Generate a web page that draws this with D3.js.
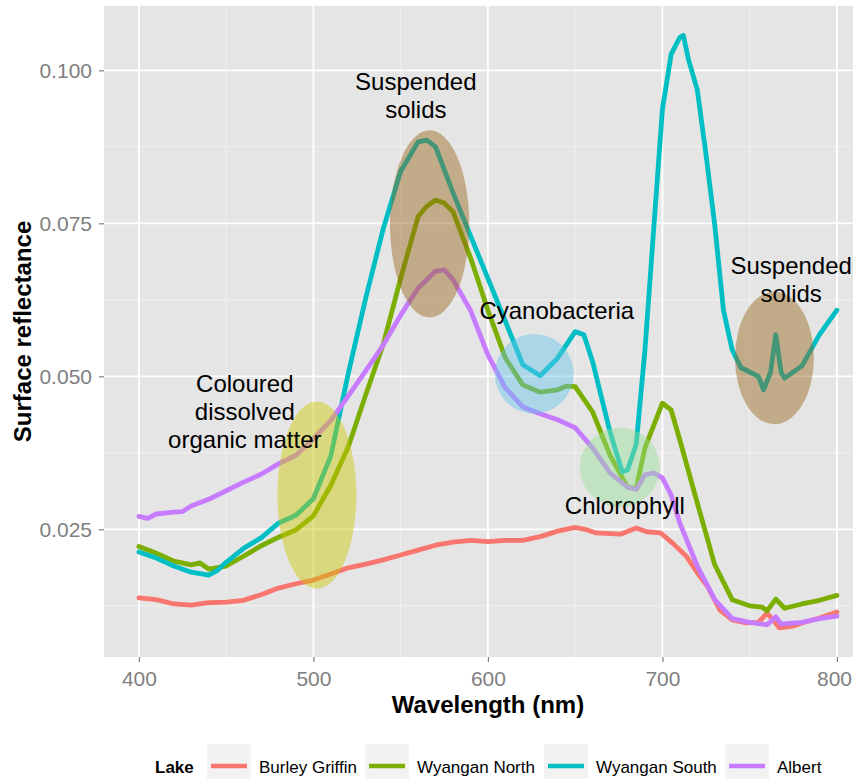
<!DOCTYPE html>
<html>
<head>
<meta charset="utf-8">
<script src="https://cdn.jsdelivr.net/npm/d3@7"></script>
<style>
  html, body { margin: 0; padding: 0; background: #ffffff; }
  svg { display: block; font-family: "Liberation Sans", Arial, Helvetica, sans-serif; }
</style>
</head>
<body>
<svg id="chart" width="853" height="779"></svg>
<script>
// Reflectance spectra, one pair of arrays per lake (wavelength in nm, surface reflectance)
const lakes = ["Burley Griffin", "Wyangan North", "Wyangan South", "Albert"];
const lakeColors = ["#F8766D", "#7CAE00", "#00BFC4", "#C77CFF"];

const burleyWl  = [400,410,420,430,440,450,460,470,480,490,500,510,520,530,540,550,560,570,580,590,600,610,620,630,640,650,657,662,676,685,691,699,706,714,720,726,733,740,748,755,760,764,767,775,780,790,800];
const burleyVal = [.0138,.0135,.0128,.0126,.0130,.0131,.0134,.0143,.0154,.0161,.0167,.0177,.0187,.0193,.0200,.0208,.0216,.0224,.0229,.0232,.0230,.0232,.0232,.0238,.0247,.0253,.0249,.0244,.0242,.0252,.0246,.0244,.0227,.0205,.0179,.0156,.0118,.0102,.0097,.0098,.0113,.0100,.0089,.0092,.0097,.0105,.0115];

const northWl  = [400,410,420,430,435,440,450,460,470,480,490,500,510,520,530,540,550,560,565,570,575,580,590,600,610,620,630,640,645,650,660,670,680,685,690,700,705,710,720,730,740,750,757,760,765,770,780,790,800];
const northVal = [.0222,.0211,.0198,.0192,.0195,.0185,.0190,.0206,.0223,.0237,.0249,.0272,.0322,.0385,.0470,.0552,.0660,.0761,.0778,.0788,.0783,.0769,.0694,.0608,.0530,.0486,.0474,.0478,.0484,.0483,.0442,.0371,.0319,.0317,.0383,.0456,.0445,.0396,.0293,.0192,.0135,.0125,.0123,.0117,.0136,.0121,.0128,.0134,.0142];

const southWl  = [400,410,420,430,440,445,450,460,470,480,490,500,510,520,530,540,550,560,565,570,580,590,600,610,620,630,640,650,655,660,670,677,680,685,690,695,700,705,710,712,715,720,725,730,735,740,745,750,755,758,762,765,768,770,780,790,800];
const southVal = [.0213,.0203,.0190,.0180,.0175,.0183,.0196,.0219,.0236,.0260,.0273,.0300,.0370,.0505,.0628,.0741,.0835,.0883,.0886,.0875,.0800,.0730,.0660,.0590,.0519,.0501,.0530,.0573,.0568,.0524,.0409,.0344,.0347,.0389,.0543,.0740,.0936,.1026,.1054,.1057,.1017,.0968,.0862,.0747,.0608,.0543,.0514,.0507,.0500,.0478,.0507,.0568,.0507,.0497,.0517,.0568,.0608];

const albertWl  = [400,405,410,420,425,430,440,450,460,470,480,490,500,510,520,530,540,550,560,570,575,580,590,600,610,620,630,640,650,660,670,680,685,690,695,700,705,710,720,730,740,750,760,765,768,780,790,800];
const albertVal = [.0271,.0268,.0275,.0278,.0279,.0288,.0299,.0313,.0327,.0340,.0357,.0371,.0398,.0428,.0468,.0509,.0551,.0600,.0644,.0672,.0674,.0658,.0608,.0535,.0481,.0450,.0439,.0429,.0416,.0383,.0342,.0319,.0315,.0339,.0342,.0334,.0306,.0260,.0190,.0135,.0104,.0098,.0094,.0107,.0095,.0098,.0104,.0108];

const seriesWl  = [burleyWl, northWl, southWl, albertWl];
const seriesVal = [burleyVal, northVal, southVal, albertVal];

// Axis ticks
const xTicks = [400, 500, 600, 700, 800];
const xMinor = [450, 550, 650, 750];
const yTicks = [0.025, 0.050, 0.075, 0.100];
const yMinor = [0.0125, 0.0375, 0.0625, 0.0875];

// Highlighted spectral features: centre (nm, reflectance) and radii (nm, reflectance)
const featureCx    = [502, 566.6, 626.6, 675.6, 764.2];
const featureCy    = [0.0306, 0.0749, 0.0504, 0.0351, 0.0530];
const featureRx    = [22.6, 22.7, 22.6, 22.9, 22.6];
const featureRy    = [0.0153, 0.0153, 0.0065, 0.0065, 0.01083];
const featureFills = ["rgb(205,200,0)", "rgb(150,100,25)", "rgb(100,195,235)", "rgb(150,225,150)", "rgb(150,100,25)"];

// Feature labels: text lines, anchor wavelength, baseline reflectance of first line
const labelLines = [["Suspended", "solids"], ["Cyanobacteria"], ["Coloured", "dissolved", "organic matter"], ["Chlorophyll"], ["Suspended", "solids"]];
const labelX     = [558.7, 639.5, 460.7, 678.5, 773.8];
const labelY     = [0.0968, 0.0594, 0.0474, 0.0275, 0.0667];

// Layout
const svg = d3.select("#chart");
const W = 853;
const panel = { left: 104, top: 6, bottom: 657 };

const x = d3.scaleLinear().domain([380, 820]).range([panel.left, panel.left + 440 * 1.745]);
const y = d3.scaleLinear().domain([0.004134, 0.11051]).range([panel.bottom, panel.top]);
const panelRight = x(820);

svg.append("defs").append("clipPath").attr("id", "panel-clip")
  .append("rect")
  .attr("x", panel.left).attr("y", panel.top)
  .attr("width", panelRight - panel.left).attr("height", panel.bottom - panel.top);

// Panel background
svg.append("rect")
  .attr("x", panel.left).attr("y", panel.top)
  .attr("width", panelRight - panel.left).attr("height", panel.bottom - panel.top)
  .attr("fill", "#e5e5e5");

const grid = svg.append("g");
// minor grid
grid.selectAll(".vminor").data(xMinor).join("line")
  .attr("x1", d => x(d)).attr("x2", d => x(d))
  .attr("y1", panel.top).attr("y2", panel.bottom)
  .attr("stroke", "#f2f2f2").attr("stroke-width", 0.9);
grid.selectAll(".hminor").data(yMinor).join("line")
  .attr("x1", panel.left).attr("x2", panelRight)
  .attr("y1", d => y(d)).attr("y2", d => y(d))
  .attr("stroke", "#f2f2f2").attr("stroke-width", 0.9);
// major grid
grid.selectAll(".vmajor").data(xTicks).join("line")
  .attr("x1", d => x(d)).attr("x2", d => x(d))
  .attr("y1", panel.top).attr("y2", panel.bottom)
  .attr("stroke", "#ffffff").attr("stroke-width", 1.8);
grid.selectAll(".hmajor").data(yTicks).join("line")
  .attr("x1", panel.left).attr("x2", panelRight)
  .attr("y1", d => y(d)).attr("y2", d => y(d))
  .attr("stroke", "#ffffff").attr("stroke-width", 1.8);

// Axes
const xAxis = d3.axisBottom(x).tickValues(xTicks).tickSize(5).tickPadding(9).tickFormat(d3.format("d"));
const yAxis = d3.axisLeft(y).tickValues(yTicks).tickSize(5).tickPadding(7).tickFormat(d3.format(".3f"));

const gx = svg.append("g").attr("transform", `translate(0,${panel.bottom})`).call(xAxis);
const gy = svg.append("g").attr("transform", `translate(${panel.left},0)`).call(yAxis);
[gx, gy].forEach(g => {
  g.select(".domain").remove();
  g.selectAll(".tick line").attr("stroke", "#7f7f7f").attr("stroke-width", 1.2);
  g.selectAll(".tick text").attr("fill", "#7f7f7f").style("font-size", "21px")
    .style("font-family", "'Liberation Sans', Arial, sans-serif");
});
// keep the last wavelength label inside the drawing area
gx.selectAll(".tick text").each(function () {
  const box = this.getBBox();
  const tickX = +this.parentNode.getAttribute("transform").match(/translate\(([-\d.]+)/)[1];
  const overflow = tickX + box.x + box.width - (W - 1);
  if (overflow > 0) d3.select(this).attr("dx", -overflow);
});

// Spectra
const line = d3.line().x(d => x(d[0])).y(d => y(d[1]));
const lines = svg.append("g").attr("clip-path", "url(#panel-clip)");
lakes.forEach((name, i) => {
  const pts = seriesWl[i].map((w, j) => [w, seriesVal[i][j]]);
  lines.append("path")
    .datum(pts)
    .attr("d", line)
    .attr("fill", "none")
    .attr("stroke", lakeColors[i])
    .attr("stroke-width", 4.8)
    .attr("stroke-linejoin", "round")
    .attr("stroke-linecap", "round");
});

// Feature highlights
const feats = svg.append("g").attr("clip-path", "url(#panel-clip)");
featureCx.forEach((cx, i) => {
  feats.append("ellipse")
    .attr("cx", x(cx)).attr("cy", y(featureCy[i]))
    .attr("rx", x(cx + featureRx[i]) - x(cx))
    .attr("ry", y(featureCy[i] - featureRy[i]) - y(featureCy[i]))
    .attr("fill", featureFills[i])
    .attr("fill-opacity", 0.45);
});

// Feature labels
const labels = svg.append("g");
labelLines.forEach((linesTxt, i) => {
  const t = labels.append("text")
    .attr("x", x(labelX[i])).attr("y", y(labelY[i]))
    .attr("text-anchor", "middle")
    .attr("fill", "#000000")
    .style("font-size", "24px");
  linesTxt.forEach((s, k) => {
    t.append("tspan").attr("x", x(labelX[i])).attr("dy", k === 0 ? 0 : 28).text(s);
  });
});

// Axis titles
svg.append("text")
  .attr("x", (panel.left + panelRight) / 2).attr("y", 713)
  .attr("text-anchor", "middle")
  .style("font-size", "24px").style("font-weight", "bold")
  .attr("fill", "#000000")
  .text("Wavelength (nm)");

svg.append("text")
  .attr("transform", `translate(31,${(panel.top + panel.bottom) / 2}) rotate(-90)`)
  .attr("text-anchor", "middle")
  .style("font-size", "24px").style("font-weight", "bold")
  .attr("fill", "#000000")
  .text("Surface reflectance");

// Legend
const legend = svg.append("g");
const legendY = 766;
legend.append("text").attr("x", 155).attr("y", legendY + 6.5)
  .style("font-size", "17px").style("font-weight", "bold").text("Lake");
const keyX = [207, 365, 544, 725];
lakes.forEach((name, i) => {
  const kx = keyX[i];
  legend.append("rect").attr("x", kx).attr("y", legendY - 22).attr("width", 44).attr("height", 44)
    .attr("fill", "#f2f2f2");
  legend.append("line").attr("x1", kx + 4).attr("x2", kx + 40)
    .attr("y1", legendY).attr("y2", legendY)
    .attr("stroke", lakeColors[i]).attr("stroke-width", 4.6);
  legend.append("text").attr("x", kx + 52).attr("y", legendY + 6.5)
    .style("font-size", "17px").attr("fill", "#000000").text(name);
});
</script>
</body>
</html>
